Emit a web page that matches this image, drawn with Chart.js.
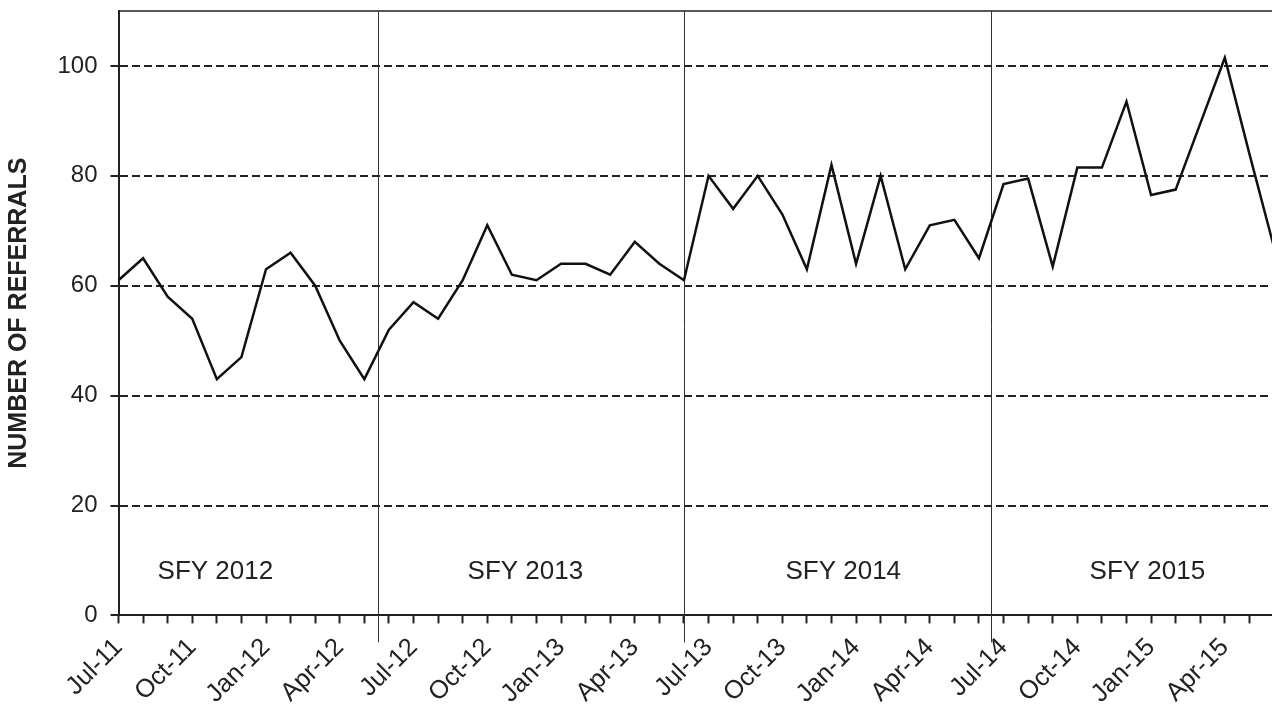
<!DOCTYPE html>
<html>
<head>
<meta charset="utf-8">
<script src="https://cdn.jsdelivr.net/npm/chart.js@4"></script>
<style>
  body { margin: 0; overflow: hidden; background: #fff; }
  canvas { display: block; }
</style>
</head>
<body>
<canvas id="grafico" width="1290" height="704"></canvas>
<script>
// meses Jul-11 .. Jun-15
const meses = [
    'Jul-11', 'Aug-11', 'Sep-11', 'Oct-11', 'Nov-11', 'Dec-11', 'Jan-12', 'Feb-12', 'Mar-12', 'Apr-12', 'May-12', 'Jun-12',
    'Jul-12', 'Aug-12', 'Sep-12', 'Oct-12', 'Nov-12', 'Dec-12', 'Jan-13', 'Feb-13', 'Mar-13', 'Apr-13', 'May-13', 'Jun-13',
    'Jul-13', 'Aug-13', 'Sep-13', 'Oct-13', 'Nov-13', 'Dec-13', 'Jan-14', 'Feb-14', 'Mar-14', 'Apr-14', 'May-14', 'Jun-14',
    'Jul-14', 'Aug-14', 'Sep-14', 'Oct-14', 'Nov-14', 'Dec-14', 'Jan-15', 'Feb-15', 'Mar-15', 'Apr-15', 'May-15', 'Jun-15'
];

const referidos = [
    61, 65, 58, 54, 43, 47, 63, 66, 60, 50, 43, 52,
    57, 54, 61, 71, 62, 61, 64, 64, 62, 68, 64, 61,
    80, 74, 80, 73, 63, 82, 64, 80, 63, 71, 72, 65,
    78.5, 79.5, 63.5, 81.5, 81.5, 93.5, 76.5, 77.5, 89.5, 101.5, 84, 67
];

const periodos = ['SFY 2012', 'SFY 2013', 'SFY 2014', 'SFY 2015'];
// posicion (en meses) de cada etiqueta y de las lineas que separan los años fiscales
const posPeriodos = [3.94, 16.55, 29.48, 41.85];
const divisiones = [10.55, 23, 35.5];

Chart.defaults.font.family = '"Liberation Sans", Arial, sans-serif';
Chart.defaults.color = '#222';

const marcos = {
    id: 'marcos',
    beforeDatasetsDraw(chart) {
        const { ctx, chartArea: a, scales: { x, y } } = chart;
        ctx.save();
        // borde de arriba
        ctx.strokeStyle = '#222';
        ctx.lineWidth = 1.5;
        ctx.beginPath();
        ctx.moveTo(a.left, a.top);
        ctx.lineTo(a.right, a.top);
        ctx.stroke();
        // separadores de año fiscal
        ctx.lineWidth = 1;
        ctx.strokeStyle = '#333';
        divisiones.forEach(d => {
            const px = Math.round(x.getPixelForValue(d)) + 0.5;
            ctx.beginPath();
            ctx.moveTo(px, a.top);
            ctx.lineTo(px, a.bottom + 27);
            ctx.stroke();
        });
        ctx.fillStyle = '#222';
        ctx.font = '26px "Liberation Sans", Arial, sans-serif';
        ctx.textAlign = 'center';
        ctx.textBaseline = 'middle';
        periodos.forEach((p, i) => {
            ctx.fillText(p, x.getPixelForValue(posPeriodos[i]), y.getPixelForValue(7.9));
        });
        ctx.restore();
    }
};

const ctx = document.getElementById('grafico');

new Chart(ctx, {
    type: 'line',
    data: {
        labels: meses,
        datasets: [{
            label: 'Referrals',
            data: referidos,
            borderColor: '#111',
            borderWidth: 2.5,
            pointRadius: 0,
            fill: false,
            tension: 0
        }]
    },
    options: {
        responsive: false,
        animation: false,
        layout: { padding: { top: 11, right: 16, left: 0, bottom: 0 } },
        plugins: {
            legend: { display: false },
            tooltip: { enabled: false }
        },
        scales: {
            x: {
                offset: false,
                grid: { drawOnChartArea: false, drawTicks: true, tickLength: 8, tickWidth: 2, tickColor: '#222', color: '#222' },
                border: { display: true, color: '#222', width: 2 },
                ticks: {
                    autoSkip: false,
                    minRotation: 45,
                    maxRotation: 45,
                    padding: 9,
                    color: '#222',
                    font: { size: 25.5 },
                    callback: function (v, i) {
                        return i % 3 === 0 ? this.getLabelForValue(v) : '';
                    }
                },
                afterFit: s => {
                    s.height = 88.6;
                    s.paddingLeft = 0;
                    s.paddingRight = 0;
                }
            },
            y: {
                min: 0,
                max: 110,
                ticks: { stepSize: 20, includeBounds: false, padding: 13, color: '#222', font: { size: 24 } },
                grid: { color: '#222', lineWidth: 2, tickLength: 8, tickBorderDash: [], tickColor: '#222' },
                border: { display: true, color: '#222', width: 2, dash: [8, 4] },
                title: {
                    display: true,
                    text: 'NUMBER OF REFERRALS',
                    color: '#222',
                    font: { size: 25, weight: 'bold' },
                    padding: { top: 4, bottom: 0 }
                },
                afterFit: s => {
                    s.width = 118.5;
                    s.paddingTop = 0;
                    s.paddingBottom = 0;
                }
            }
        }
    },
    plugins: [marcos]
});
</script>
</body>
</html>
